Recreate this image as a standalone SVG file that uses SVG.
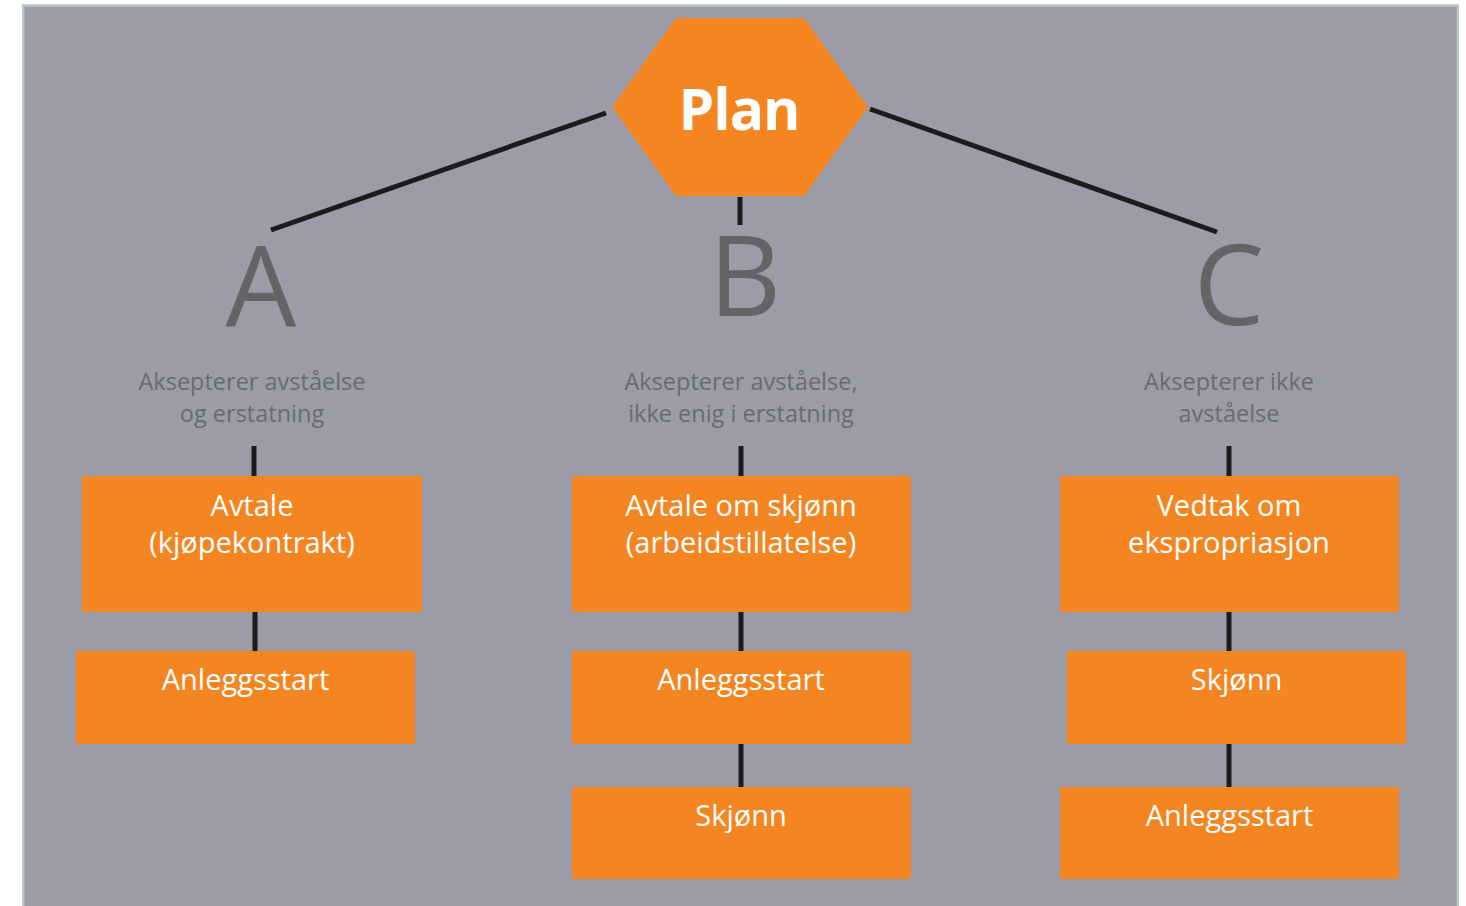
<svg xmlns="http://www.w3.org/2000/svg" width="1466" height="906" viewBox="0 0 1466 906">
<style>
.bg{fill:#9b9ca8;stroke:#b8c7be;stroke-width:2.5}
.box{fill:#f48521}
.ln{stroke:#1c1a1a;stroke-width:5;fill:none}
.bt{font-family:"Open Sans","Liberation Sans",sans-serif;font-size:29px;fill:#ffffff;text-anchor:middle}
.lbl{font-family:"Open Sans","Liberation Sans",sans-serif;font-size:23.5px;fill:#6a6b70;text-anchor:middle}
.big{font-family:"Open Sans","Liberation Sans",sans-serif;font-size:112px;fill:#636466;text-anchor:middle}
.plan{font-family:"Open Sans","Liberation Sans",sans-serif;font-size:57px;font-weight:bold;fill:#ffffff;text-anchor:middle;letter-spacing:-1px}
</style>
<rect class="bg" x="23.2" y="5.5" width="1434.6" height="920"/>
<g id="connectors">
<line class="ln" x1="606" y1="113" x2="271" y2="230"/>
<line class="ln" x1="870" y1="109" x2="1217" y2="232"/>
<line class="ln" x1="740" y1="197" x2="740" y2="225"/>
<line class="ln" x1="254" y1="446" x2="254" y2="476"/>
<line class="ln" x1="255" y1="612" x2="255" y2="651"/>
<line class="ln" x1="741" y1="446" x2="741" y2="476"/>
<line class="ln" x1="741" y1="612" x2="741" y2="651"/>
<line class="ln" x1="741" y1="744" x2="741" y2="787"/>
<line class="ln" x1="1229" y1="446" x2="1229" y2="476"/>
<line class="ln" x1="1229" y1="612" x2="1229" y2="651"/>
<line class="ln" x1="1229" y1="744" x2="1229" y2="787"/>
</g>
<g id="plan">
<polygon class="box" points="676,18 804,18 868,107 804,196 676,196 612,107"/>
<text class="plan" x="739" y="130">Plan</text>
</g>
<g id="branchA">
<text class="big" x="261" y="326">A</text>
<text class="lbl" x="252" y="390">Aksepterer avståelse</text>
<text class="lbl" x="252" y="422">og erstatning</text>
</g>
<g id="branchB">
<text class="big" x="745" y="316">B</text>
<text class="lbl" x="741" y="390">Aksepterer avståelse,</text>
<text class="lbl" x="741" y="422">ikke enig i erstatning</text>
</g>
<g id="branchC">
<text class="big" x="1229" y="325">C</text>
<text class="lbl" x="1229" y="390">Aksepterer ikke</text>
<text class="lbl" x="1229" y="422">avståelse</text>
</g>
<g id="a1">
<rect class="box" x="82" y="476" width="340" height="136"/>
<text class="bt" x="252" y="516">Avtale</text>
<text class="bt" x="252" y="553">(kjøpekontrakt)</text>
</g>
<g id="a2">
<rect class="box" x="76" y="651" width="339" height="93"/>
<text class="bt" x="245.5" y="690">Anleggsstart</text>
</g>
<g id="b1">
<rect class="box" x="572" y="476" width="339" height="136"/>
<text class="bt" x="741" y="516">Avtale om skjønn</text>
<text class="bt" x="741" y="553">(arbeidstillatelse)</text>
</g>
<g id="b2">
<rect class="box" x="572" y="651" width="339" height="93"/>
<text class="bt" x="741" y="690">Anleggsstart</text>
</g>
<g id="b3">
<rect class="box" x="572" y="787" width="339" height="92"/>
<text class="bt" x="741" y="826">Skjønn</text>
</g>
<g id="c1">
<rect class="box" x="1060" y="476" width="339" height="136"/>
<text class="bt" x="1229" y="516">Vedtak om</text>
<text class="bt" x="1229" y="553">ekspropriasjon</text>
</g>
<g id="c2">
<rect class="box" x="1067" y="651" width="339" height="93"/>
<text class="bt" x="1236.5" y="690">Skjønn</text>
</g>
<g id="c3">
<rect class="box" x="1060" y="787" width="339" height="92"/>
<text class="bt" x="1229.5" y="826">Anleggsstart</text>
</g>
</svg>
